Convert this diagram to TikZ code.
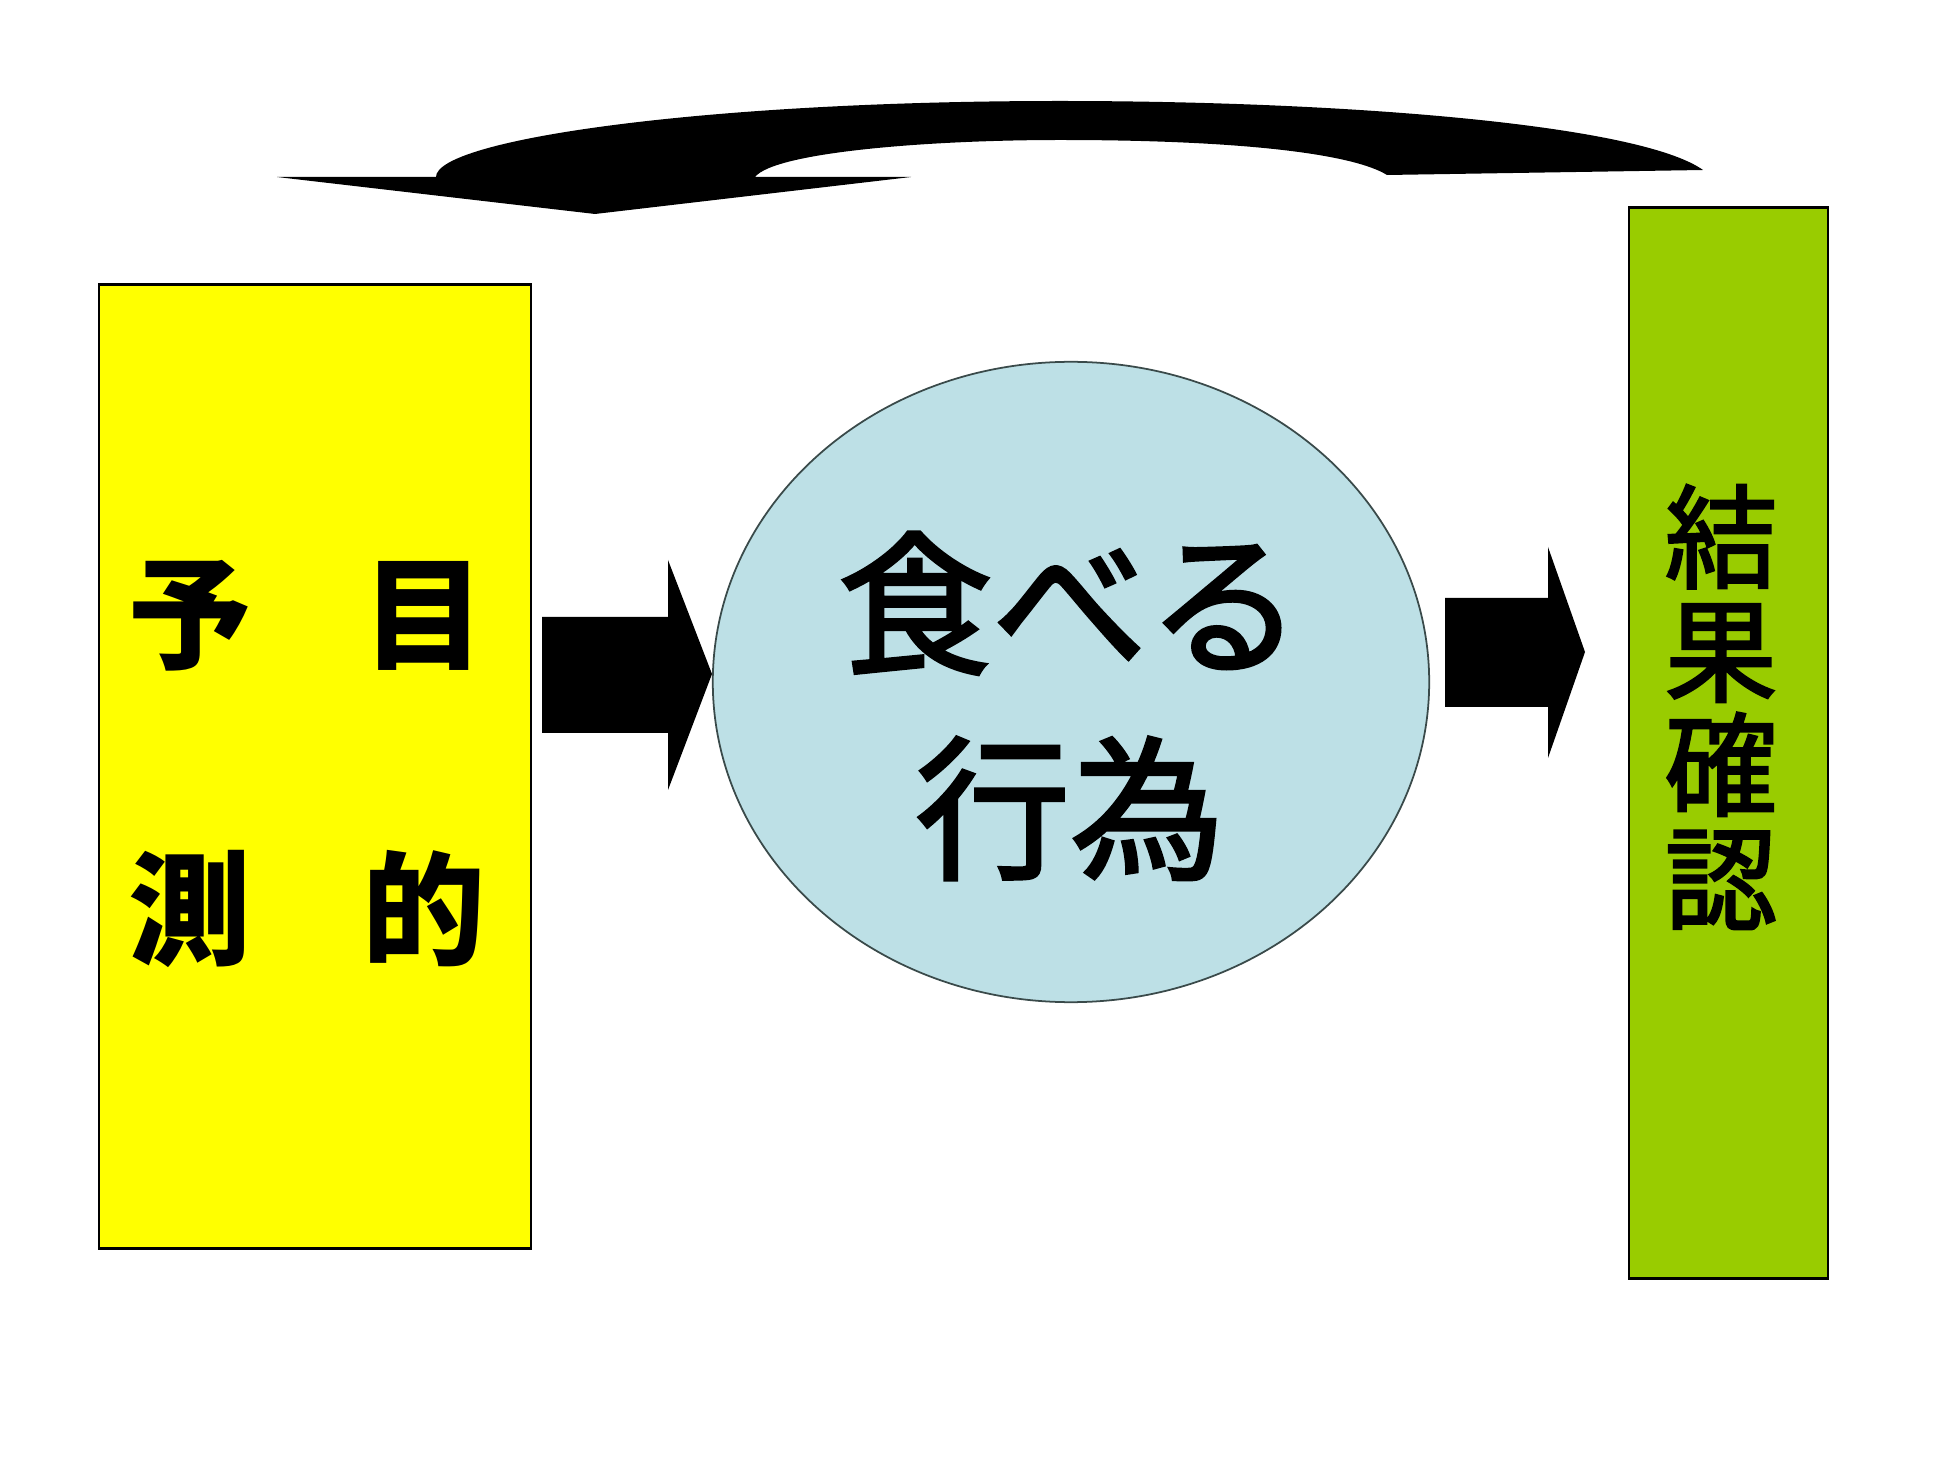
\documentclass[tikz,border=0pt]{standalone}
\usepackage{fontspec}
\newfontfamily\jp{Noto Sans CJK JP}
\newfontfamily\jpm[FakeBold=2.2]{Noto Sans CJK JP}
\usetikzlibrary{shapes.geometric}
\definecolor{boxyellow}{HTML}{FFFF00}
\definecolor{boxgreen}{HTML}{99CC00}
\definecolor{ellblue}{HTML}{BDE0E6}
\definecolor{ellline}{HTML}{3A4A4A}
\begin{document}
\begin{tikzpicture}[x=0.01cm,y=-0.01cm,
  box/.style={draw=black, line width=0.7pt, inner sep=0pt},
  blockarrow/.style={fill=black, draw=none},
  jtext/.style={inner sep=0pt, align=center, text=black}]
\useasboundingbox[fill=white] (0,0) rectangle (1944,1458);
% boxes
\node[box, fill=boxyellow, minimum width=4.32cm, minimum height=9.63cm] (yb) at (315,766.5) {};
\node[box, fill=boxgreen, minimum width=1.99cm, minimum height=10.70cm] (gb) at (1728.5,743) {};
\node[ellipse, draw=ellline, line width=0.5pt, fill=ellblue, minimum width=7.16cm, minimum height=6.40cm, inner sep=0pt] (el) at (1071,682) {};
% texts
\node[jtext, font={\jp\bfseries\fontsize{35}{84}\selectfont}] (tr) at (424,764) {目\\的};
\node[jtext, font={\jp\bfseries\fontsize{35}{84}\selectfont}] (tl) at (190,764) {予\\測};
\node[jtext, font={\jpm\fontsize{44}{58.3}\selectfont}] (te) at (1070,706) {食べる\\行為};
\node[jtext, font={\jpm\fontsize{32}{32.4}\selectfont}] (tg) at (1721,707) {結\\果\\確\\認};
% block arrows
\fill[blockarrow] (542,617) -- (668,617) -- (668,560) -- (712,674) -- (668,790) -- (668,733) -- (542,733) -- cycle;
\fill[blockarrow] (1445,598) -- (1548,598) -- (1548,547) -- (1585,652) -- (1548,758) -- (1548,707) -- (1445,707) -- cycle;
% curved return arrow
\fill[blockarrow] (277,177) -- (436,177)
  .. controls (436,140) and (700,101) .. (1060,101)
  .. controls (1350,101) and (1640,125) .. (1703,170)
  -- (1387,175)
  .. controls (1355,155) and (1250,140) .. (1060,140)
  .. controls (930,140) and (775,152) .. (755,177)
  -- (911,177) -- (595,214) -- cycle;
\end{tikzpicture}
\end{document}
